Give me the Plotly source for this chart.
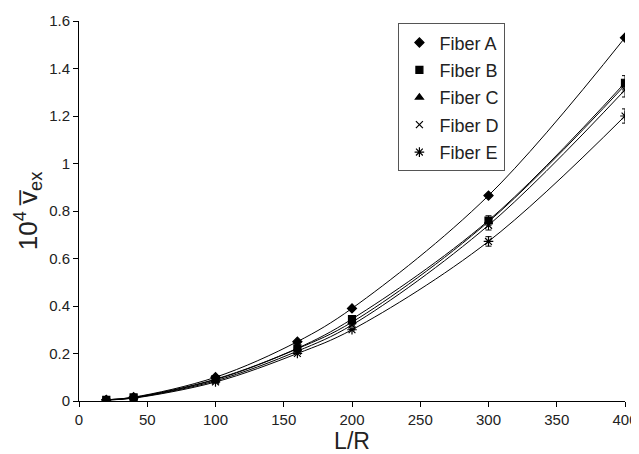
import plotly.graph_objects as go

# L/R values
lr = [20, 40, 100, 160, 200, 300, 400]

# 10^4 v_ex for each fiber
fiber_a = [0.005, 0.016, 0.10, 0.25, 0.39, 0.865, 1.53]
fiber_b = [0.005, 0.015, 0.092, 0.222, 0.345, 0.76, 1.34]
fiber_c = [0.005, 0.014, 0.09, 0.22, 0.332, 0.755, 1.33]
fiber_d = [0.004, 0.013, 0.085, 0.21, 0.32, 0.74, 1.31]
fiber_e = [0.004, 0.012, 0.08, 0.20, 0.30, 0.672, 1.20]

# error bars
err_b = [0, 0, 0, 0, 0, 0.02, 0.03]
err_d = [0, 0, 0, 0, 0, 0.02, 0.03]
err_e = [0, 0, 0, 0, 0, 0.02, 0.03]

names = ["Fiber A", "Fiber B", "Fiber C", "Fiber D", "Fiber E"]
series = [fiber_a, fiber_b, fiber_c, fiber_d, fiber_e]
errors = [None, err_b, None, err_d, err_e]
symbols = ["diamond", "square", "triangle-up", "x-thin-open", "asterisk-open"]
sizes = [7, 7, 7, 7, 8]

fig = go.Figure()
for name, ys, err, sym, sz in zip(names, series, errors, symbols, sizes):
    # fitted curve
    fig.add_trace(go.Scatter(
        x=lr, y=ys, mode="lines", showlegend=False, hoverinfo="skip",
        line=dict(color="black", width=1, shape="spline", smoothing=1.0),
    ))
    # data points
    fig.add_trace(go.Scatter(
        x=lr, y=ys, name=name, mode="markers", legendgroup=name,
        marker=dict(symbol=sym, size=sz, color="black",
                    line=dict(color="black", width=1.2)),
        error_y=dict(type="data", array=err, visible=err is not None,
                     color="black", thickness=1, width=3),
    ))

# page body has an 8px margin, so the plot box is shifted by 8px
fig.update_layout(
    width=639, height=454,
    margin=dict(l=71, r=22, t=13, b=61),
    plot_bgcolor="white", paper_bgcolor="white",
    font=dict(family="Liberation Sans, Arial, sans-serif", color="#222", size=15),
    showlegend=True,
    legend=dict(x=0.585, y=0.994, xanchor="left", yanchor="top",
                bordercolor="#555", borderwidth=1, bgcolor="white",
                font=dict(size=18), tracegroupgap=1, itemwidth=30),
    xaxis=dict(range=[0, 400], dtick=50, showgrid=False, zeroline=False,
               showline=True, linecolor="black", linewidth=1,
               ticks="outside", ticklen=5, tickcolor="black",
               automargin=False,
               title=dict(text="L/R", font=dict(size=23), standoff=0)),
    yaxis=dict(range=[0, 1.6], dtick=0.2, showgrid=False, zeroline=False,
               showline=True, linecolor="black", linewidth=1,
               ticks="outside", ticklen=5, tickcolor="black",
               tickformat="~g", automargin=False,
               title=dict(text="10<sup>4</sup> v\u0305<sub>ex</sub>",
                          font=dict(size=26), standoff=4)),
)

fig.write_html("out.html")
